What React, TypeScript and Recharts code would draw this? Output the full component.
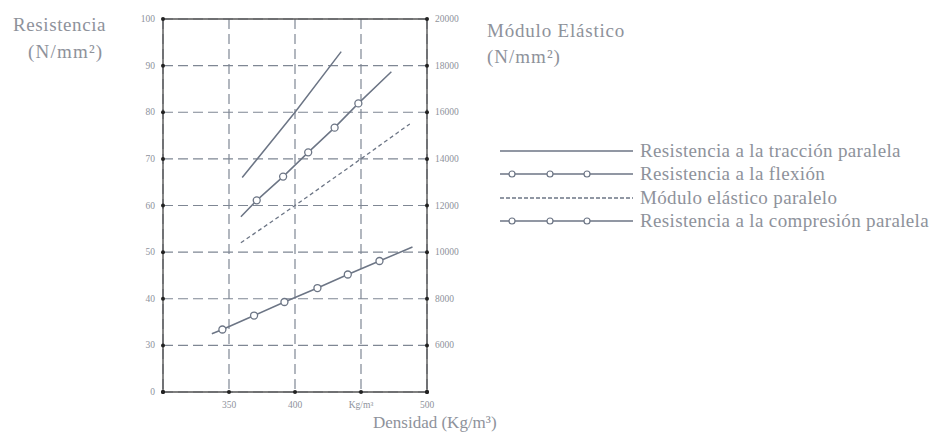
import React from "react";
import {
  LineChart,
  Line,
  XAxis,
  YAxis,
  CartesianGrid,
  ReferenceLine,
  ReferenceDot,
} from "recharts";

// axis ticks
const densityTicks = [300, 350, 400, 450, 500];
const densityTickLabels = ["", "350", "400", "Kg/m³", "500"];
const resistTicks = [20, 30, 40, 50, 60, 70, 80, 90, 100];
const resistTickLabels = ["0", "30", "40", "50", "60", "70", "80", "90", "100"];
const moduloTicks = [6000, 8000, 10000, 12000, 14000, 16000, 18000, 20000];

// series (density in Kg/m³)
const traccionX = [360, 400, 435];
const traccionY = [66, 80, 93];
const flexionX = [359, 371, 391, 410, 430, 448, 473];
const flexionY = [57.6, 61.1, 66.2, 71.4, 76.7, 81.9, 88.7];
const moduloX = [359, 400, 450, 487];
const moduloY = [10400, 12000, 14000, 15500];
const compresionX = [337, 345, 369, 392, 417, 440, 464, 489];
const compresionY = [32.5, 33.4, 36.4, 39.3, 42.3, 45.2, 48.1, 51.1];

const seriesNames = [
  "Resistencia a la tracción paralela",
  "Resistencia a la flexión",
  "Módulo elástico paralelo",
  "Resistencia a la compresión paralela",
];

const zip = (xs: number[], ys: number[]) => xs.map((x, i) => ({ x, y: ys[i] }));

const LINE = "#6c7585";
const GRID = "#7f8794";
const TEXT = "#8e929b";
const FONT = "'Liberation Serif', 'DejaVu Serif', serif";

// open circle on inner points only, ends are plain
const innerDot = (count: number) => (props: any) => {
  const { cx, cy, index } = props;
  if (index === 0 || index === count - 1) return <g key={index} />;
  return (
    <circle key={index} cx={cx} cy={cy} r={3.5} fill="#fff" stroke={LINE} strokeWidth={1.3} />
  );
};

const tickText = (labels: string[], ticks: number[], anchor: string, dy = 3) => (props: any) => {
  const { x, y, payload } = props;
  const i = ticks.indexOf(payload.value);
  const label = i >= 0 ? labels[i] : String(payload.value);
  return (
    <text x={x} y={y} dy={dy} textAnchor={anchor} fontSize={9.5} fill={TEXT} fontFamily={FONT}>
      {label}
    </text>
  );
};

function LegendBox() {
  const kinds = ["solid", "dots", "dashed", "dots"];
  return (
    <div
      style={{
        position: "absolute",
        left: 500,
        top: 139,
        fontFamily: FONT,
        color: TEXT,
        fontSize: 19,
        letterSpacing: 0.35,
      }}
    >
      {seriesNames.map((name, i) => (
        <div key={name} style={{ display: "flex", alignItems: "center", height: 23.5 }}>
          <svg width={134} height={12} style={{ marginRight: 6 }}>
            <line
              x1={0}
              y1={6}
              x2={133}
              y2={6}
              stroke={LINE}
              strokeWidth={1.4}
              strokeDasharray={kinds[i] === "dashed" ? "4 2" : undefined}
            />
            {kinds[i] === "dots" &&
              [12, 50, 87].map((cx) => (
                <circle key={cx} cx={cx} cy={6} r={3} fill="#fff" stroke={LINE} strokeWidth={1.2} />
              ))}
          </svg>
          <span style={{ whiteSpace: "nowrap" }}>{name}</span>
        </div>
      ))}
    </div>
  );
}

export default function App() {
  const label: React.CSSProperties = {
    position: "absolute",
    fontFamily: FONT,
    color: TEXT,
    fontSize: 19,
    lineHeight: 1,
    whiteSpace: "nowrap",
  };
  return (
    <div style={{ position: "absolute", left: 0, top: 0, width: 938, height: 442, background: "#fff" }}>
      <LineChart
        width={938}
        height={442}
        margin={{ top: 19, right: 471, bottom: 30, left: 123 }}
      >
        <CartesianGrid yAxisId="left" stroke={GRID} strokeDasharray="10 5" strokeWidth={1.2} />
        <XAxis
          type="number"
          dataKey="x"
          domain={[300, 500]}
          ticks={densityTicks}
          tickLine={false}
          axisLine={{ stroke: "#555", strokeWidth: 1.4 }}
          tick={tickText(densityTickLabels, densityTicks, "middle", 8)}
          height={20}
          allowDuplicatedCategory={false}
        />
        <YAxis
          yAxisId="left"
          type="number"
          domain={[20, 100]}
          ticks={resistTicks}
          tickLine={false}
          axisLine={{ stroke: "#555", strokeWidth: 1.4 }}
          tick={tickText(resistTickLabels, resistTicks, "end")}
          width={40}
        />
        <YAxis
          yAxisId="right"
          orientation="right"
          type="number"
          domain={[4000, 20000]}
          ticks={moduloTicks}
          tickLine={false}
          axisLine={{ stroke: "#555", strokeWidth: 1.4 }}
          tick={tickText(moduloTicks.map(String), moduloTicks, "start")}
          width={40}
        />
        <ReferenceLine yAxisId="left" y={100} stroke="#555" strokeWidth={1.4} />
        {resistTicks.map((t) => (
          <ReferenceDot key={"l" + t} yAxisId="left" x={300} y={t} r={2} fill="#222" stroke="none" />
        ))}
        {resistTicks.map((t) => (
          <ReferenceDot key={"r" + t} yAxisId="left" x={500} y={t} r={2} fill="#222" stroke="none" />
        ))}
        {densityTicks.map((t) => (
          <ReferenceDot key={"b" + t} yAxisId="left" x={t} y={20} r={2} fill="#222" stroke="none" />
        ))}
        <Line
          yAxisId="left"
          data={zip(traccionX, traccionY)}
          dataKey="y"
          name={seriesNames[0]}
          stroke={LINE}
          strokeWidth={1.5}
          dot={false}
          isAnimationActive={false}
        />
        <Line
          yAxisId="left"
          data={zip(flexionX, flexionY)}
          dataKey="y"
          name={seriesNames[1]}
          stroke={LINE}
          strokeWidth={1.5}
          dot={innerDot(flexionX.length)}
          isAnimationActive={false}
        />
        <Line
          yAxisId="right"
          data={zip(moduloX, moduloY)}
          dataKey="y"
          name={seriesNames[2]}
          stroke={LINE}
          strokeWidth={1.3}
          strokeDasharray="4 3"
          dot={false}
          isAnimationActive={false}
        />
        <Line
          yAxisId="left"
          data={zip(compresionX, compresionY)}
          dataKey="y"
          name={seriesNames[3]}
          stroke={LINE}
          strokeWidth={1.5}
          dot={innerDot(compresionX.length)}
          isAnimationActive={false}
        />
      </LineChart>
      <LegendBox />
      <div style={{ ...label, left: 13, top: 15, letterSpacing: 0.6 }}>Resistencia</div>
      <div style={{ ...label, left: 28, top: 42, letterSpacing: 1.2 }}>(N/mm²)</div>
      <div style={{ ...label, left: 487, top: 21, letterSpacing: 0.8 }}>Módulo Elástico</div>
      <div style={{ ...label, left: 487, top: 47, letterSpacing: 1 }}>(N/mm²)</div>
      <div style={{ ...label, left: 373, top: 414, fontSize: 17 }}>Densidad (Kg/m³)</div>
    </div>
  );
}
